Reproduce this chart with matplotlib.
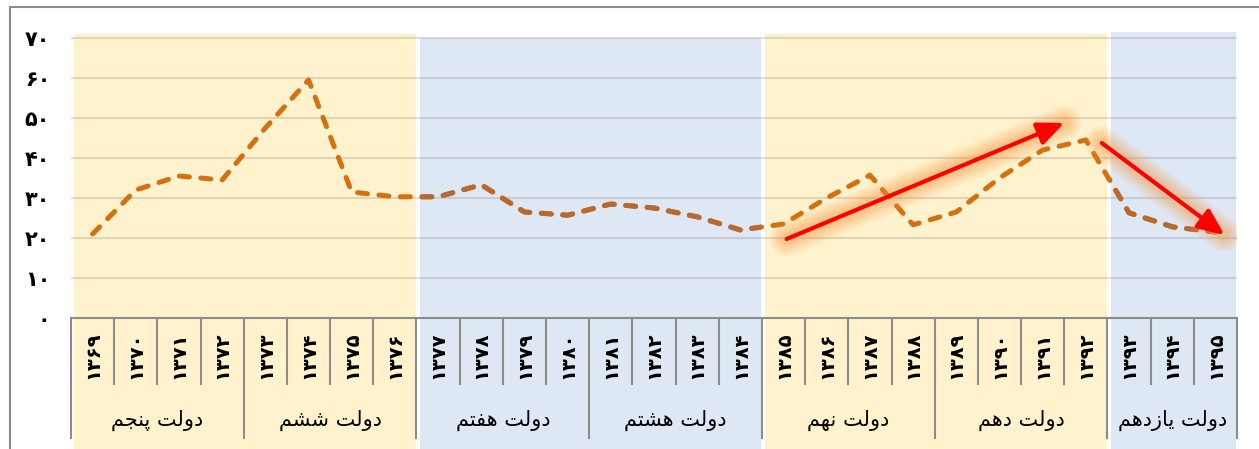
import matplotlib.pyplot as plt
from matplotlib.lines import Line2D
import numpy as np

plt.rcParams['font.family'] = ['DejaVu Sans']

# data
years = list(range(1369, 1396))
values = [21, 32, 35.5, 34.5, 47.5, 59.5, 31.5, 30.3, 30.3, 33.3, 26.5, 25.7, 28.5, 27.5,
          25.3, 22, 23.5, 30, 35.7, 23.3, 26.5, 35, 42, 44.5, 26.3, 22.8, 21.5]

gov_names = ['دولت پنجم', 'دولت ششم', 'دولت هفتم', 'دولت هشتم', 'دولت نهم', 'دولت دهم', 'دولت یازدهم']
gov_sizes = [4, 4, 4, 4, 4, 4, 3]

band_sizes = [8, 8, 8, 3]
band_colors = ['#FFF2CC', '#DEE8F4', '#FFF2CC', '#DEE8F4']
band_tops = [71, 70, 71, 71.5]

yticks = [0, 10, 20, 30, 40, 50, 60, 70]

arrow_up = ((16.07, 19.75), (22.5, 48.75))
arrow_down = ((23.37, 43.75), (26.21, 20.75))

line_color = '#D6700E'
line_color_blue = '#B8692F'


FORMS = {
    'ا': ('\uFE8D', '\uFE8E', None, None),
    'د': ('\uFEA9', '\uFEAA', None, None),
    'ز': ('\uFEAF', '\uFEB0', None, None),
    'و': ('\uFEED', '\uFEEE', None, None),
    'ل': ('\uFEDD', '\uFEDE', '\uFEDF', '\uFEE0'),
    'ت': ('\uFE95', '\uFE96', '\uFE97', '\uFE98'),
    'پ': ('\uFB56', '\uFB57', '\uFB58', '\uFB59'),
    'ن': ('\uFEE5', '\uFEE6', '\uFEE7', '\uFEE8'),
    'ج': ('\uFE9D', '\uFE9E', '\uFE9F', '\uFEA0'),
    'م': ('\uFEE1', '\uFEE2', '\uFEE3', '\uFEE4'),
    'ش': ('\uFEB5', '\uFEB6', '\uFEB7', '\uFEB8'),
    'ه': ('\uFEE9', '\uFEEA', '\uFEEB', '\uFEEC'),
    'ف': ('\uFED1', '\uFED2', '\uFED3', '\uFED4'),
    'ی': ('\uFBFC', '\uFBFD', '\uFBFE', '\uFBFF'),
}


def joins_left(ch):
    return ch in FORMS and FORMS[ch][2] is not None


def shape(text):
    # simple arabic shaping + reverse for left-to-right layout
    out = []
    for i, ch in enumerate(text):
        if ch not in FORMS:
            out.append(ch)
            continue
        prev = i > 0 and joins_left(text[i-1])
        nxt = i < len(text)-1 and text[i+1] in FORMS and joins_left(ch)
        f = FORMS[ch]
        if prev and nxt:
            out.append(f[3])
        elif prev:
            out.append(f[1])
        elif nxt:
            out.append(f[2])
        else:
            out.append(f[0])
    return ''.join(out[::-1])


def fa(n):
    return str(n).translate(str.maketrans('0123456789', '۰۱۲۳۴۵۶۷۸۹'))


W, H = 1259, 449
fig = plt.figure(figsize=(W/100, H/100), dpi=100)
ax = fig.add_axes([71/W, (H-318)/H, (1237-71)/W, (318-30)/H])
ax.set_xlim(-0.5, len(years)-0.5)
ax.set_ylim(0, 72)
x = np.arange(len(years))

# background bands
bottom = -34
start = 0
blue_bars = []
for n, c, top in zip(band_sizes, band_colors, band_tops):
    b = ax.bar(start + (n-1)/2 + 0.03, top - bottom, width=n-0.09, bottom=bottom,
               color=c, zorder=0, clip_on=False)[0]
    if c == '#DEE8F4':
        blue_bars.append(b)
    start += n

# grid
for t in yticks[1:]:
    ax.axhline(t, color='#7f7f7f', alpha=0.25, lw=1.5, zorder=1)

# line
ax.plot(x, values, color=line_color, lw=3.6, linestyle=(0, (2, 2.3)),
        dash_capstyle='round', zorder=3)
for b in blue_bars:
    ln, = ax.plot(x, values, color=line_color_blue, lw=3.6, linestyle=(0, (2, 2.3)),
                  dash_capstyle='round', zorder=3.1)
    ln.set_clip_path(b)

# arrows with glow
for (p0, p1) in [arrow_up, arrow_down]:
    for lw in [24, 19, 15, 11, 8]:
        ax.plot([p0[0], p1[0]], [p0[1], p1[1]], color='#F7913A', alpha=0.11, lw=lw,
                solid_capstyle='round', zorder=4)
    ax.annotate('', xy=p1, xytext=p0,
                arrowprops=dict(arrowstyle='-|>,head_length=0.8,head_width=0.35',
                                color='#FF0000', lw=3, mutation_scale=20,
                                shrinkA=0, shrinkB=0), zorder=5)

# axes style
for s in ['top', 'right', 'left']:
    ax.spines[s].set_visible(False)
ax.spines['bottom'].set_color('#8c8c8c')
ax.spines['bottom'].set_linewidth(1.5)
ax.set_xticks([])
ax.set_yticks(yticks)
ax.set_yticklabels([fa(t) for t in yticks], fontsize=15, fontweight='bold')
ax.tick_params(axis='y', length=0, pad=15)

# table under the axis
gov_edges = np.cumsum([0] + gov_sizes)
for i in range(len(years)+1):
    low = -30 if i in gov_edges else -16.5
    ax.plot([i-0.5, i-0.5], [0, low], color='#8c8c8c', lw=1.5, clip_on=False, zorder=2)
for i, yr in enumerate(years):
    ax.text(i, -9.2, fa(yr), rotation=90, ha='center', va='center', fontsize=14,
            fontweight='bold', clip_on=False)
for k, name in enumerate(gov_names):
    mid = (gov_edges[k] + gov_edges[k+1]) / 2 - 0.5
    ax.text(mid, -25.5, shape(name), ha='center', va='center', fontsize=15, clip_on=False)

# outer frame
fig.add_artist(Line2D([10/W, 10/W], [0, 1-7/H], color='#8c8c8c', lw=1.5))
fig.add_artist(Line2D([10/W, 1], [1-7/H, 1-7/H], color='#8c8c8c', lw=1.5))

plt.savefig('out.png', dpi=100)
